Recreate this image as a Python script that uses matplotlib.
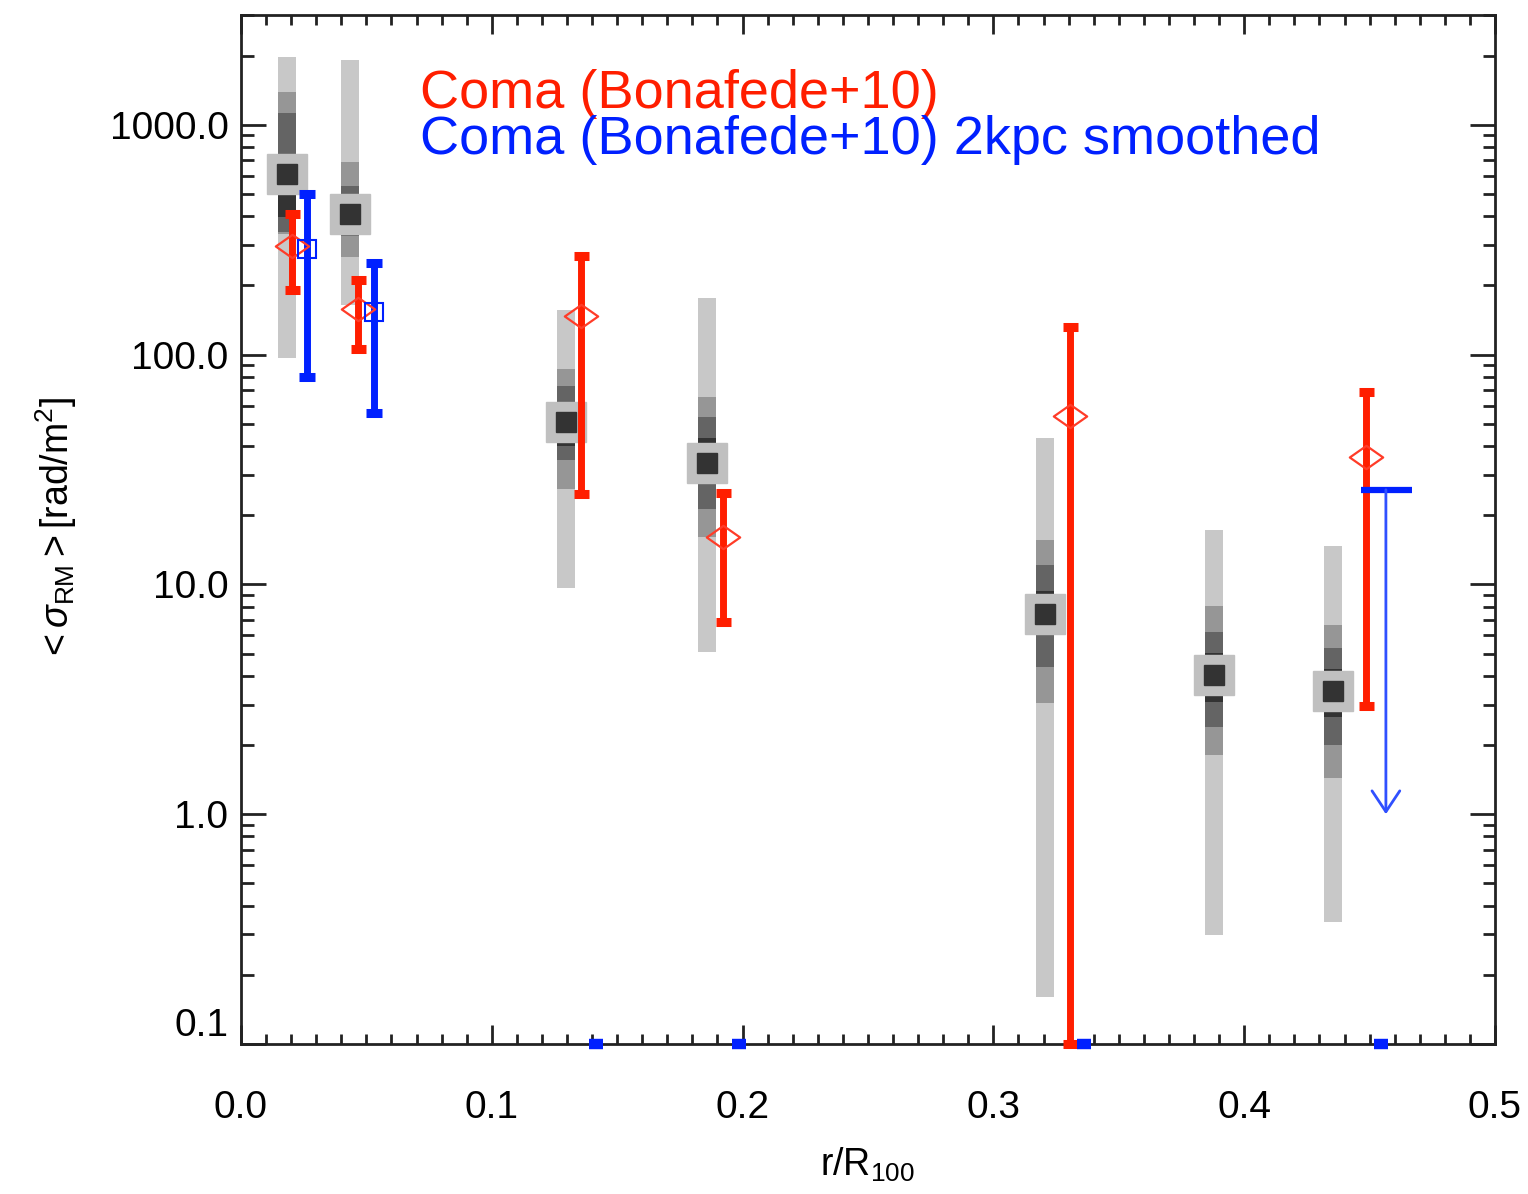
import numpy as np
import matplotlib
matplotlib.use('Agg')
import matplotlib.pyplot as plt
from matplotlib.path import Path
from matplotlib.ticker import FixedLocator, MultipleLocator, LogLocator, NullFormatter

plt.rcParams['font.family'] = ['Liberation Sans', 'DejaVu Sans']
plt.rcParams['mathtext.fontset'] = 'custom'
plt.rcParams['mathtext.rm'] = 'Liberation Sans'
plt.rcParams['mathtext.it'] = 'Liberation Sans:italic'
plt.rcParams['mathtext.bf'] = 'Liberation Sans:bold'

# simulated profile (grey boxes): radius, median and nested ranges
sim_r = [0.0183, 0.0435, 0.1296, 0.1860, 0.3206, 0.3880, 0.4355]
sim_med = [608, 408, 50.7, 33.8, 7.44, 4.02, 3.44]
sim_lo1 = [97, 165, 9.66, 5.08, 0.16, 0.297, 0.339]
sim_hi1 = [1970, 1915, 156, 177, 43.4, 17.2, 14.7]
sim_lo2 = [335, 267, 26.0, 16.1, 3.04, 1.81, 1.44]
sim_hi2 = [1386, 689, 86.6, 65.4, 15.6, 8.03, 6.67]
sim_lo3 = [340, 327, 34.6, 21.3, 4.35, 2.40, 2.00]
sim_hi3 = [1122, 540, 72.8, 53.5, 12.1, 6.21, 5.31]
sim_lo4 = [395, 360, 40.0, 29.0, 6.00, 3.09, 2.65]
sim_hi4 = [700, 500, 62.0, 43.5, 9.40, 5.03, 4.27]

# Coma (Bonafede+10)
coma_r = [0.0202, 0.0468, 0.1354, 0.1923, 0.3306, 0.4484]
coma_sig = [298, 158, 147, 16.0, 54.1, 35.8]
coma_lo = [190, 106, 24.8, 6.88, 0.1, 2.95]
coma_hi = [407, 211, 268, 24.9, 131.6, 68.9]

# Coma (Bonafede+10) 2kpc smoothed
smooth_r = [0.0262, 0.0530]
smooth_sig = [287, 153]
smooth_lo = [79.6, 55.7]
smooth_hi = [498, 249]
smooth_floor_r = [0.1415, 0.1987, 0.3363, 0.4545]   # below plot range
smooth_ul_r = 0.4565
smooth_ul = 25.8
smooth_ul_to = 1.0

red = '#ff1e00'
blue = '#0020ff'

fig = plt.figure(figsize=(15.28, 11.94), dpi=100)
ax = fig.add_axes([0.1577, 0.1256, 0.8207, 0.8618])
ax.set_yscale('log')

# grey boxes
w = 0.0072
shades = ['#c8c8c8', '#969696', '#646464', '#333333']
ranges = [(sim_lo1, sim_hi1), (sim_lo2, sim_hi2), (sim_lo3, sim_hi3), (sim_lo4, sim_hi4)]
for k, (lo, hi) in enumerate(ranges):
    lo = np.array(lo)
    hi = np.array(hi)
    ax.bar(sim_r, hi - lo, bottom=lo, width=w, color=shades[k], linewidth=0, zorder=1 + k)
ax.plot(sim_r, sim_med, 's', ms=29, color='#c0c0c0', mec='#c0c0c0', zorder=5)
ax.plot(sim_r, sim_med, 's', ms=14, color='#333333', mec='#333333', zorder=5.5)

# observed Coma
coma_sig_a = np.array(coma_sig)
eb = ax.errorbar(coma_r, coma_sig, yerr=[coma_sig_a - np.array(coma_lo), np.array(coma_hi) - coma_sig_a],
                 fmt='none', ecolor=red, elinewidth=5, capsize=5.4, capthick=6.5, zorder=6)
for c in eb[1]:
    c.set_clip_on(False)
for c in eb[2]:
    c.set_clip_on(False)
diamond = Path([(-1, 0), (0, 0.7), (1, 0), (0, -0.7), (-1, 0)],
               [Path.MOVETO, Path.LINETO, Path.LINETO, Path.LINETO, Path.CLOSEPOLY])
ax.plot(coma_r, coma_sig, linestyle='none', marker=diamond, ms=24, mfc='none',
        mec='#ff3c28', mew=1.6, zorder=7)

# smoothed
smooth_sig_a = np.array(smooth_sig)
ax.errorbar(smooth_r, smooth_sig, yerr=[smooth_sig_a - np.array(smooth_lo), np.array(smooth_hi) - smooth_sig_a],
            fmt='none', ecolor=blue, elinewidth=5, capsize=5.6, capthick=6.5, zorder=6)
ax.plot(smooth_r, smooth_sig, 's', ms=13.5, mfc='none', mec=blue, mew=1.5, zorder=7)
ax.plot(smooth_floor_r, [0.1] * len(smooth_floor_r), linestyle='none', marker='_', ms=10.5,
        mew=7.5, color=blue, clip_on=False, zorder=8)
ax.hlines(smooth_ul, smooth_ul_r - 0.0099, smooth_ul_r + 0.0103, color=blue, lw=4.5, zorder=7)
ax.annotate('', xy=(smooth_ul_r, smooth_ul_to), xytext=(smooth_ul_r, smooth_ul),
            arrowprops=dict(arrowstyle='->,head_length=0.75,head_width=0.5', color='#3050ff',
                            lw=2, mutation_scale=20, shrinkA=0, shrinkB=0), zorder=7)

# legend text
ax.text(0.1427, 0.9096, 'Coma (Bonafede+10)', color=red, fontsize=39,
        transform=ax.transAxes, va='baseline')
ax.text(0.1427, 0.865, 'Coma (Bonafede+10) 2kpc smoothed', color=blue, fontsize=39,
        transform=ax.transAxes, va='baseline')

# axes
ax.set_xlim(0, 0.5)
ax.set_ylim(0.1, 3000)
ax.set_xticks([0.0, 0.1, 0.2, 0.3, 0.4, 0.5])
ax.set_xticklabels(['0.0', '0.1', '0.2', '0.3', '0.4', '0.5'])
ax.xaxis.set_minor_locator(MultipleLocator(0.01))
ax.yaxis.set_major_locator(FixedLocator([0.1, 1, 10, 100, 1000]))
ax.set_yticklabels(['0.1', '1.0', '10.0', '100.0', '1000.0'])
ax.yaxis.set_minor_locator(LogLocator(base=10, subs=np.arange(2, 10)))
ax.yaxis.set_minor_formatter(NullFormatter())

ax.tick_params(which='both', direction='in', top=True, right=True, width=2, color='#222222')
ax.tick_params(axis='x', which='major', length=14, pad=33, labelsize=28)
ax.tick_params(axis='x', which='minor', length=7.5)
ax.tick_params(axis='y', which='major', length=18, pad=9, labelsize=28)
ax.tick_params(axis='y', which='minor', length=9)
for s in ax.spines.values():
    s.set_linewidth(2)
    s.set_color('#222222')

ax.yaxis.get_major_ticks()[0].label1.set_va('bottom')

ax.set_xlabel(r'r/R$_{100}$', fontsize=27, labelpad=14)
ax.set_ylabel(r'$<\sigma_{\rm RM}>$[rad/m$^2$]', fontsize=27, labelpad=22)

fig.savefig('out.png', dpi=100)
